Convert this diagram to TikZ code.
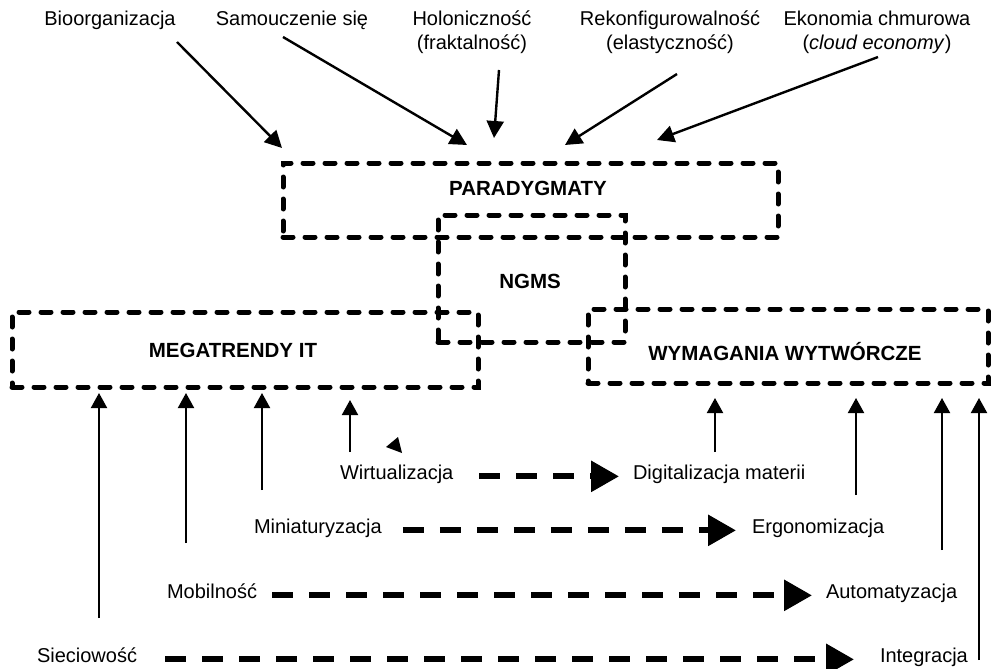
\documentclass[tikz,border=0pt]{standalone}
\usepackage{fontspec}
\setmainfont{Liberation Sans}
\usetikzlibrary{arrows.meta,calc}
\begin{document}
\begin{tikzpicture}[x=1pt,y=-1pt,
  every node/.style={inner sep=0pt, outer sep=0pt},
  lbl/.style={font=\fontsize{20}{24}\selectfont, align=center},
  title/.style={font=\fontsize{20.5}{24}\selectfont\bfseries},
  frame/.style={draw, line width=5pt, dash pattern=on 10pt off 12pt, line cap=round},
  toparrow/.style={line width=2.4pt, -{Triangle[length=17pt,width=17pt]}},
  uparrow/.style={line width=2pt, -{Triangle[length=15pt,width=16pt]}},
  dasharrow/.style={line width=6pt, dash pattern=on 21pt off 16pt, -{Triangle[length=28pt,width=30pt]}}
]
\useasboundingbox (0,0) rectangle (991,669);

% --- dashed frames ---
\node[frame, minimum width=495pt, minimum height=74pt] (par) at (530.5,200) {};
\node[frame, minimum width=187pt, minimum height=127pt] (ngms) at (531.5,278.5) {};
\node[frame, minimum width=466pt, minimum height=75pt] (mega) at (245,349.5) {};
\node[frame, minimum width=400pt, minimum height=74pt] (wym) at (788,346) {};

\node[title, anchor=base] (partitle) at (528,195) {PARADYGMATY};
\node[title, anchor=base] (ngmstitle) at (530,288) {NGMS};
\node[title, anchor=base] (megatitle) at (233,357) {MEGATRENDY IT};
\node[title, anchor=base] (wymtitle) at (785,360) {WYMAGANIA WYTWÓRCZE};

% --- paradigms (top) ---
\node[lbl, anchor=north] (bio) at (110,10.7) {Bioorganizacja};
\node[lbl, anchor=north] (sam) at (292,10.7) {Samouczenie się};
\node[lbl, anchor=north] (hol) at (472,10.7) {Holoniczność\\(fraktalność)};
\node[lbl, anchor=north] (rek) at (670,10.7) {Rekonfigurowalność\\(elastyczność)};
\node[lbl, anchor=north] (eko) at (877,10.7) {Ekonomia chmurowa\\(\textit{cloud economy})};

\coordinate (bio-s) at (177,42);  \coordinate (bio-t) at (282,148);
\coordinate (sam-s) at (283,37);  \coordinate (sam-t) at (467,145);
\coordinate (hol-s) at (499,70);  \coordinate (hol-t) at (494,138);
\coordinate (rek-s) at (677,74);  \coordinate (rek-t) at (565,145);
\coordinate (eko-s) at (878,57);  \coordinate (eko-t) at (657,140);
\draw[toparrow] (bio-s) -- (bio-t);
\draw[toparrow] (sam-s) -- (sam-t);
\draw[toparrow] (hol-s) -- (hol-t);
\draw[toparrow] (rek-s) -- (rek-t);
\draw[toparrow] (eko-s) -- (eko-t);

% --- IT megatrends and manufacturing requirements ---
\node[lbl, anchor=base west] (wirt) at (340,479) {Wirtualizacja};
\node[lbl, anchor=base west] (digi) at (633,479) {Digitalizacja materii};
\node[lbl, anchor=base west] (mini) at (254,533) {Miniaturyzacja};
\node[lbl, anchor=base west] (ergo) at (752,533) {Ergonomizacja};
\node[lbl, anchor=base west] (mobi) at (167,598) {Mobilność};
\node[lbl, anchor=base west] (auto) at (826,598) {Automatyzacja};
\node[lbl, anchor=base west] (siec) at (37,662) {Sieciowość};
\node[lbl, anchor=base west] (inte) at (880,662) {Integracja};

\draw[dasharrow] ([xshift=26pt]wirt.mid east) -- ([xshift=-14pt]digi.mid west);
\draw[dasharrow] ([xshift=21pt]mini.mid east) -- ([xshift=-16pt]ergo.mid west);
\draw[dasharrow] ([xshift=15pt]mobi.mid east) -- ([xshift=-14pt]auto.mid west);
\draw[dasharrow] ([xshift=28pt]siec.mid east) -- ([xshift=-26pt]inte.mid west);

% feet of the vertical arrows
\coordinate (f-siec) at (99,618);
\coordinate (f-mobi) at (186,543);
\coordinate (f-mini) at (262,490);
\coordinate (f-wirt) at (350,452);
\coordinate (f-digi) at (715,452);
\coordinate (f-ergo) at (856,495);
\coordinate (f-auto) at (942,550);
\coordinate (f-inte) at (979,660);

\draw[uparrow] (f-siec) -- ($(f-siec |- mega.south)+(0,6)$);
\draw[uparrow] (f-mobi) -- ($(f-mobi |- mega.south)+(0,6)$);
\draw[uparrow] (f-mini) -- ($(f-mini |- mega.south)+(0,6)$);
\draw[uparrow] (f-wirt) -- ($(f-wirt |- mega.south)+(0,13)$);
\draw[uparrow] (f-digi) -- ($(f-digi |- wym.south)+(0,15)$);
\draw[uparrow] (f-ergo) -- ($(f-ergo |- wym.south)+(0,15)$);
\draw[uparrow] (f-auto) -- ($(f-auto |- wym.south)+(0,15)$);
\draw[uparrow] (f-inte) -- ($(f-inte |- wym.south)+(0,15)$);

% small detached arrowhead above the virtualisation label
\fill (386,447) -- (398,437) -- (402,453) -- cycle;
\end{tikzpicture}
\end{document}
